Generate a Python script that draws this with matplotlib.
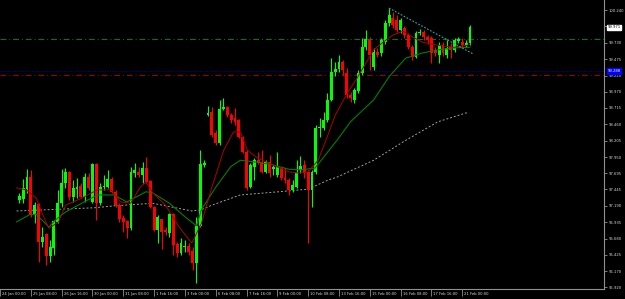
import matplotlib
matplotlib.use("Agg")
import matplotlib.pyplot as plt
import matplotlib.transforms as mtransforms
from matplotlib import font_manager
import numpy as np

# H4 candles, oldest first
opens = [97.28, 97.30, 97.45, 97.64, 97.05, 97.22, 96.63, 96.75, 96.41, 96.53,
         96.94, 97.23, 97.55, 97.72, 97.33, 97.45, 97.50, 97.33, 97.64, 97.25,
         97.84, 97.23, 97.48, 97.48, 97.61, 97.41, 97.20, 97.00, 96.95, 96.84,
         97.70, 97.72, 97.67, 97.78, 97.58, 97.17, 96.81, 96.99, 96.81, 96.77,
         97.06, 96.60, 96.46, 96.55, 96.56, 96.49, 96.30, 96.88, 97.83, 98.61,
         98.65, 98.32, 98.17, 98.70, 98.73, 98.61, 98.56, 98.53, 98.26, 98.03,
         97.48, 97.80, 97.90, 97.87, 97.72, 97.87, 97.76, 97.67, 97.78, 97.62,
         97.59, 97.44, 97.48, 97.75, 97.83, 97.72, 97.44, 97.72, 98.40, 98.40,
         98.53, 98.84, 99.27, 99.32, 99.43, 99.26, 98.92, 98.84, 98.98, 99.26,
         99.66, 99.77, 99.35, 99.59, 99.57, 99.74, 100.04, 100.12, 100.08, 99.93,
         99.96, 99.85, 99.66, 99.51, 99.88, 99.90, 99.82, 99.80, 99.62, 99.54,
         99.69, 99.54, 99.66, 99.62, 99.76, 99.74, 99.69, 99.73]
highs = [97.39, 97.61, 97.76, 97.75, 97.25, 97.23, 96.86, 96.77, 96.66, 96.97,
         97.44, 97.76, 97.78, 97.73, 97.59, 97.62, 97.55, 97.70, 97.70, 97.86,
         97.86, 97.55, 97.67, 97.75, 97.64, 97.44, 97.23, 97.05, 96.97, 97.80,
         97.86, 97.80, 97.87, 97.95, 97.59, 97.19, 97.05, 96.99, 96.86, 97.08,
         97.08, 96.63, 96.69, 96.66, 96.61, 96.55, 97.02, 98.06, 97.90, 98.75,
         98.73, 98.37, 98.84, 98.87, 98.75, 98.64, 98.71, 98.54, 98.28, 98.06,
         97.86, 97.94, 98.03, 98.06, 97.90, 97.98, 97.83, 98.03, 97.80, 97.78,
         97.62, 97.59, 97.90, 97.97, 97.90, 97.75, 97.75, 98.45, 98.56, 98.65,
         98.95, 99.49, 99.43, 99.54, 99.46, 99.34, 98.96, 99.02, 99.31, 99.80,
         99.93, 99.82, 99.65, 99.65, 99.80, 100.08, 100.27, 100.21, 100.16, 100.12,
         99.99, 99.88, 99.69, 99.91, 99.94, 99.93, 99.85, 99.84, 99.66, 99.74,
         99.74, 99.77, 99.73, 99.80, 99.82, 99.80, 99.77, 100.01]
lows = [97.23, 97.23, 97.39, 97.02, 96.92, 96.32, 96.55, 96.27, 96.32, 96.42,
        96.92, 97.17, 97.47, 97.28, 97.25, 97.31, 97.31, 97.25, 97.44, 97.23,
        96.97, 97.20, 97.44, 97.47, 97.39, 97.17, 96.94, 96.78, 96.69, 96.81,
        97.64, 97.64, 97.55, 97.55, 97.16, 96.80, 96.61, 96.52, 96.74, 96.71,
        96.42, 96.39, 96.42, 96.47, 96.42, 96.19, 95.99, 96.86, 97.80, 98.59,
        98.26, 98.14, 98.14, 98.68, 98.57, 98.48, 98.45, 98.25, 98.01, 97.44,
        97.47, 97.59, 97.84, 97.70, 97.70, 97.64, 97.67, 97.64, 97.59, 97.55,
        97.36, 97.41, 97.47, 97.70, 97.62, 96.61, 97.17, 97.69, 98.26, 98.37,
        98.50, 98.82, 99.21, 99.27, 99.23, 98.87, 98.81, 98.79, 98.95, 99.23,
        99.62, 99.31, 99.31, 99.51, 99.52, 99.71, 99.99, 99.96, 99.90, 99.88,
        99.80, 99.63, 99.46, 99.49, 99.85, 99.77, 99.71, 99.41, 99.52, 99.41,
        99.52, 99.49, 99.49, 99.59, 99.73, 99.66, 99.66, 99.69]
closes = [97.34, 97.47, 97.64, 97.05, 97.20, 96.63, 96.71, 96.41, 96.55, 96.95,
          97.23, 97.55, 97.72, 97.33, 97.47, 97.48, 97.33, 97.64, 97.47, 97.84,
          97.23, 97.48, 97.50, 97.61, 97.41, 97.20, 96.99, 96.94, 96.84, 97.72,
          97.75, 97.67, 97.78, 97.56, 97.17, 96.81, 97.02, 96.78, 96.78, 97.06,
          96.58, 96.46, 96.61, 96.56, 96.47, 96.30, 96.88, 97.84, 97.86, 98.64,
          98.29, 98.17, 98.70, 98.73, 98.61, 98.53, 98.50, 98.26, 98.03, 97.47,
          97.83, 97.90, 97.86, 97.72, 97.87, 97.70, 97.80, 97.80, 97.62, 97.59,
          97.44, 97.51, 97.70, 97.81, 97.70, 97.44, 97.72, 98.40, 98.42, 98.53,
          98.84, 99.27, 99.32, 99.43, 99.31, 98.92, 98.87, 98.99, 99.26, 99.66,
          99.79, 99.54, 99.59, 99.54, 99.77, 100.04, 100.16, 100.01, 99.93, 100.08,
          99.85, 99.66, 99.51, 99.88, 99.90, 99.82, 99.77, 99.57, 99.57, 99.69,
          99.57, 99.65, 99.62, 99.77, 99.79, 99.69, 99.73, 99.971]

# moving averages, read at bar positions
ma_fast_x = [-0.7, 1.8, 4.4, 6.1, 7.7, 10.2, 12, 16.2, 20.3, 23.8, 26.3, 28.9, 31.4, 32.9,
             34.7, 38, 41.5, 44.8, 47.3, 49.8, 53.1, 55.6, 57.4, 59.2, 61.7, 65.7, 70,
             72.5, 75, 77.6, 80.1, 82, 85.2, 87.7, 92, 94.5, 97, 99.6, 102.1, 104.6,
             108.7, 112.9, 116.2, 117]
ma_fast_y = [97.47, 97.44, 97.31, 97.05, 96.84, 96.94, 97.20, 97.31, 97.44, 97.44, 97.25,
             97.23, 97.48, 97.56, 97.39, 97.20, 96.86, 96.61, 96.92, 97.44, 98.06, 98.34,
             98.34, 98.06, 97.94, 97.83, 97.72, 97.70, 97.72, 97.90, 98.29, 98.60, 98.95,
             99.18, 99.62, 99.74, 99.85, 99.91, 99.82, 99.74, 99.69, 99.66, 99.69, 99.71]
ma_mid_x = [-0.7, 2.6, 4.4, 7.7, 9.4, 11.9, 16.2, 20.3, 24.6, 27.9, 32.9, 34.7, 39, 43,
            46, 47.3, 51, 54.9, 57.4, 61.7, 65.7, 70, 73.3, 76.8, 80.1, 82.6, 86, 92,
            96, 100.3, 104.6, 108.7, 113, 117]
ma_mid_y = [96.94, 97.05, 97.06, 96.86, 96.97, 97.09, 97.23, 97.36, 97.36, 97.25, 97.41,
            97.39, 97.23, 97.02, 96.88, 97.13, 97.48, 97.80, 97.90, 97.87, 97.83, 97.76,
            97.75, 97.78, 98.03, 98.22, 98.50, 98.84, 99.20, 99.49, 99.57, 99.62, 99.65,
            99.66]
ma_slow_x = [-0.7, 19.5, 24.6, 34.7, 39.7, 44.8, 47.3, 50, 57.4, 67.5, 75, 80.1, 82.6,
             92, 100.3, 108.7, 116.7]
ma_slow_y = [97.11, 97.16, 97.19, 97.23, 97.17, 97.11, 97.13, 97.20, 97.36, 97.41, 97.45,
             97.59, 97.64, 97.90, 98.21, 98.50, 98.65]

trend_x = [96.0, 118.0]
trend_y = [100.27, 99.55]

level_green = 99.784
level_blue = 99.288
level_red = 99.224

price_ticks = [100.240, 99.985, 99.730, 99.475, 99.220, 98.970, 98.715, 98.460, 98.205,
               97.950, 97.695, 97.445, 97.190, 96.935, 96.680, 96.425, 96.170, 95.920]
time_pos = [-5, 3, 11, 19, 27, 35, 43, 51, 59, 67, 75, 83, 91, 99, 107, 115]
time_labels = ["24 Jan 00:00", "25 Jan 08:00", "26 Jan 16:00", "30 Jan 00:00", "31 Jan 08:00",
               "1 Feb 16:00", "3 Feb 00:00", "6 Feb 08:00", "7 Feb 16:00", "9 Feb 00:00",
               "10 Feb 08:00", "13 Feb 16:00", "15 Feb 00:00", "16 Feb 08:00",
               "17 Feb 16:00", "21 Feb 00:00"]

names = {f.name for f in font_manager.fontManager.ttflist}
narrow = "Liberation Sans Narrow" in names
plt.rcParams['font.family'] = ['Liberation Sans Narrow', 'DejaVu Sans'] if narrow else ['DejaVu Sans']
fs = 3.2 if narrow else 2.7

fig = plt.figure(figsize=(6.25, 2.99), dpi=100, facecolor="black")
ax = fig.add_axes([0, 10 / 299, 604 / 625, 289 / 299], facecolor="black")

o = np.array(opens); c = np.array(closes); h = np.array(highs); l = np.array(lows)
idx = np.arange(len(o))
up = c >= o
cols = np.where(up, "#00ff00", "#ff0000")

# moving averages and levels behind the candles
ax.plot(ma_slow_x, ma_slow_y, color="#a0a0a0", lw=0.7, ls=(0, (2, 2)), zorder=1)
ax.plot(ma_mid_x, ma_mid_y, color="#008000", lw=0.8, zorder=3)
ax.plot(ma_fast_x, ma_fast_y, color="#b00000", lw=0.7, zorder=3)
ax.axhline(level_green, color="#008000", lw=0.7, ls=(0, (6, 3, 1, 3)), zorder=1)
ax.axhline(level_blue, color="#0000c0", lw=0.7, ls=(0, (1, 1.5)), zorder=1)
ax.axhline(level_red, color="#a00000", lw=0.7, ls=(0, (6, 3, 1, 3)), zorder=1)
ax.plot(trend_x, trend_y, color="#20b0b0", lw=0.8, ls=(0, (1.5, 1.5)), zorder=4)

ax.vlines(idx, l, h, colors=cols, lw=0.8, zorder=2)
body = np.maximum(np.abs(c - o), 0.015)
ax.bar(idx, body, bottom=np.minimum(o, c), width=0.75, color=cols, lw=0, zorder=2)

ax.set_xlim(-0.68, 151.8)
ax.set_ylim(95.895, 100.396)

for s in ["top", "left"]:
    ax.spines[s].set_visible(False)
for s in ["right", "bottom"]:
    ax.spines[s].set_color("#909090")
    ax.spines[s].set_linewidth(0.8)

ax.yaxis.tick_right()
ax.set_yticks(price_ticks)
ax.set_yticklabels(["%.3f" % v for v in price_ticks])
ax.tick_params(axis="y", colors="#909090", labelcolor="#d8d8d8", length=2, width=0.6,
               pad=1.5, labelsize=fs)
ax.set_xticks(time_pos)
ax.set_xticklabels([])
ax.tick_params(axis="x", colors="#909090", length=5, width=0.6)

# time labels start just right of their tick, the first one runs off the left edge
trx = mtransforms.blended_transform_factory(ax.transData, ax.transAxes)
shift = mtransforms.ScaledTranslation(2 / 100, -5 / 100, fig.dpi_scale_trans)
for p, t in zip(time_pos, time_labels):
    ax.text(p, 0, t, transform=trx + shift, fontsize=fs, color="#d8d8d8",
            ha="left", va="center", clip_on=False)

# price labels on the scale
tr = mtransforms.blended_transform_factory(ax.transAxes, ax.transData)
ax.text(1.006, closes[-1], "%.3f" % closes[-1], transform=tr, fontsize=fs, color="black",
        va="center", ha="left", clip_on=False, zorder=10,
        bbox=dict(boxstyle="square,pad=0.2", fc="white", ec="white"))
ax.text(1.006, level_blue, "%.3f" % level_blue, transform=tr, fontsize=fs, color="white",
        va="center", ha="left", clip_on=False, zorder=10,
        bbox=dict(boxstyle="square,pad=0.2", fc="#0000ff", ec="#0000ff"))

fig.savefig("out.png", dpi=100, facecolor="black")
